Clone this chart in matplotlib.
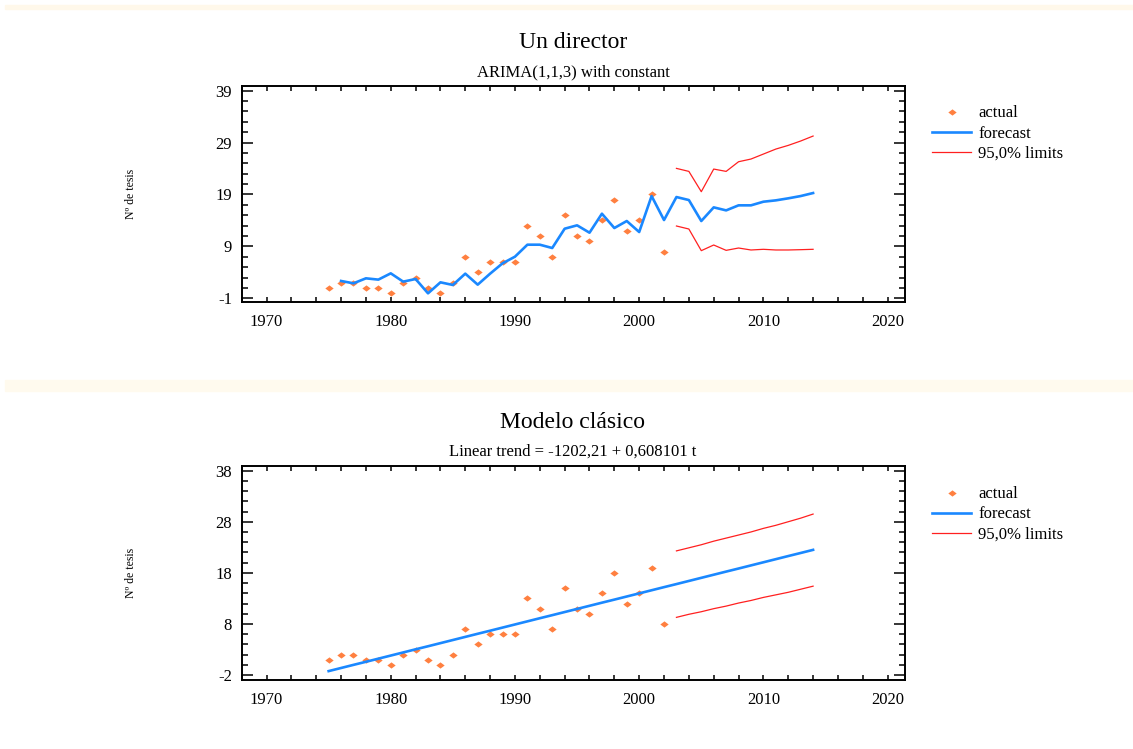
import matplotlib
matplotlib.use("Agg")
from matplotlib import pyplot as plt
from matplotlib.patches import Rectangle

plt.rcParams['font.family'] = ['Liberation Serif', 'DejaVu Serif']
plt.rcParams['axes.unicode_minus'] = False

# Datos observados (número de tesis por año)
years_actual = list(range(1975, 2003))
actual = [1, 2, 2, 1, 1, 0, 2, 3, 1, 0, 2, 7, 4, 6, 6, 6, 13, 11, 7, 15,
          11, 10, 14, 18, 12, 14, 19, 8]

# ARIMA(1,1,3) con constante
years_arima = list(range(1976, 2015))
arima_fc = [2.34, 1.89, 2.85, 2.6, 3.81, 2.21, 2.72, -0.04, 2.08, 1.57,
            3.75, 1.63, 3.75, 5.74, 7.02, 9.33, 9.33, 8.69, 12.41, 13.06,
            11.64, 15.3, 12.54, 13.89, 11.77, 18.7, 14.08, 18.51, 17.93, 13.89,
            16.52, 15.94, 16.91, 16.91, 17.61, 17.87, 18.26, 18.7, 19.28]
years_lim = list(range(2003, 2015))
arima_up = [24.03, 23.45, 19.54, 23.9, 23.45, 25.31, 25.83, 26.79, 27.75,
            28.46, 29.3, 30.26]
arima_lo = [12.93, 12.35, 8.18, 9.27, 8.24, 8.69, 8.31, 8.44, 8.31, 8.31,
            8.37, 8.44]

# Modelo clásico (tendencia lineal)
years_trend = list(range(1975, 2015))
trend_fc = [-1.21, -0.6, 0.01, 0.61, 1.22, 1.83, 2.44, 3.05, 3.65, 4.26,
            4.87, 5.48, 6.09, 6.69, 7.3, 7.91, 8.52, 9.13, 9.73, 10.34,
            10.95, 11.56, 12.17, 12.77, 13.38, 13.99, 14.6, 15.21, 15.81, 16.42,
            17.03, 17.64, 18.25, 18.85, 19.46, 20.07, 20.68, 21.29, 21.89, 22.5]
trend_up = [22.3, 22.9, 23.5, 24.2, 24.8, 25.4, 26.0, 26.7, 27.3, 28.0,
            28.7, 29.5]
trend_lo = [9.3, 9.9, 10.4, 11.0, 11.5, 12.1, 12.6, 13.2, 13.7, 14.2,
            14.8, 15.4]

top_yticks = [-1, 9, 19, 29, 39]
bot_yticks = [-2, 8, 18, 28, 38]
xticks = [1970, 1980, 1990, 2000, 2010, 2020]

ORANGE = '#FF8040'
BLUE = '#1A88FF'
RED = '#FF2020'
diamond = [(-1, 0), (0, 0.75), (1, 0), (0, -0.75), (-1, 0)]

fig = plt.figure(figsize=(11.33, 7.49), dpi=100)
fig.patches.append(Rectangle((5 / 1133, 1 - 9 / 749), 1, 4 / 749,
                             transform=fig.transFigure, color='#FFF8EA', zorder=0))
fig.patches.append(Rectangle((5 / 1133, 1 - 391 / 749), 1, 11 / 749,
                             transform=fig.transFigure, color='#FFFAEE', zorder=0))

W, H = 1133, 749


def panel(top, bottom, title, subtitle, yticks, ylim, fc_x, fc, up, lo, leg_top):
    ax = fig.add_axes([241.7 / W, 1 - bottom / H, (905 - 241.7) / W, (bottom - top) / H])
    ax.plot(years_actual, actual, linestyle='none', marker=diamond, markersize=6,
            color=ORANGE, markeredgewidth=0, label='actual')
    ax.plot(fc_x, fc, color=BLUE, lw=1.9, label='forecast')
    ax.plot(years_lim, up, color=RED, lw=0.9, label='95,0% limits')
    ax.plot(years_lim, lo, color=RED, lw=0.9)

    ax.set_xlim(1968.46, 2021.4)
    ax.set_ylim(*ylim)
    ax.set_xticks(xticks)
    ax.set_xticks(range(1968, 2022, 2), minor=True)
    ax.set_yticks(yticks)
    ax.set_yticks(range(yticks[0], yticks[-1] + 1, 2), minor=True)
    ax.tick_params(which='both', direction='in', top=True, right=True,
                   labelsize=12, width=1.1, color='black')
    ax.tick_params(axis='y', which='major', length=8, pad=7)
    ax.tick_params(axis='y', which='minor', length=4)
    ax.tick_params(axis='x', which='both', length=3.5, pad=9)
    for s in ax.spines.values():
        s.set_linewidth(1.4)
    ax.set_ylabel('Nº de tesis', fontsize=8.5)
    ax.yaxis.set_label_coords((137 - 241.7) / (905 - 241.7), 0.5)

    fig.text(573 / W, 1 - (top - 44) / H, title, fontsize=17, ha='center', va='center')
    fig.text(573 / W, 1 - (top - 14) / H, subtitle, fontsize=12, ha='center', va='center')

    ax.legend(loc='upper left', bbox_to_anchor=(924 / W, 1 - leg_top / H),
              bbox_transform=fig.transFigure, frameon=False, fontsize=12,
              borderpad=0, handlelength=2.3, handletextpad=0.45, labelspacing=0.25)
    return ax


panel(86, 302, 'Un director', 'ARIMA(1,1,3) with constant', top_yticks,
      (-1.71, 39.9), years_arima, arima_fc, arima_up, arima_lo, 97)
panel(466, 680, 'Modelo clásico', 'Linear trend = -1202,21 + 0,608101 t', bot_yticks,
      (-2.95, 38.9), years_trend, trend_fc, trend_up, trend_lo, 478)

fig.savefig('out.png', dpi=100)
